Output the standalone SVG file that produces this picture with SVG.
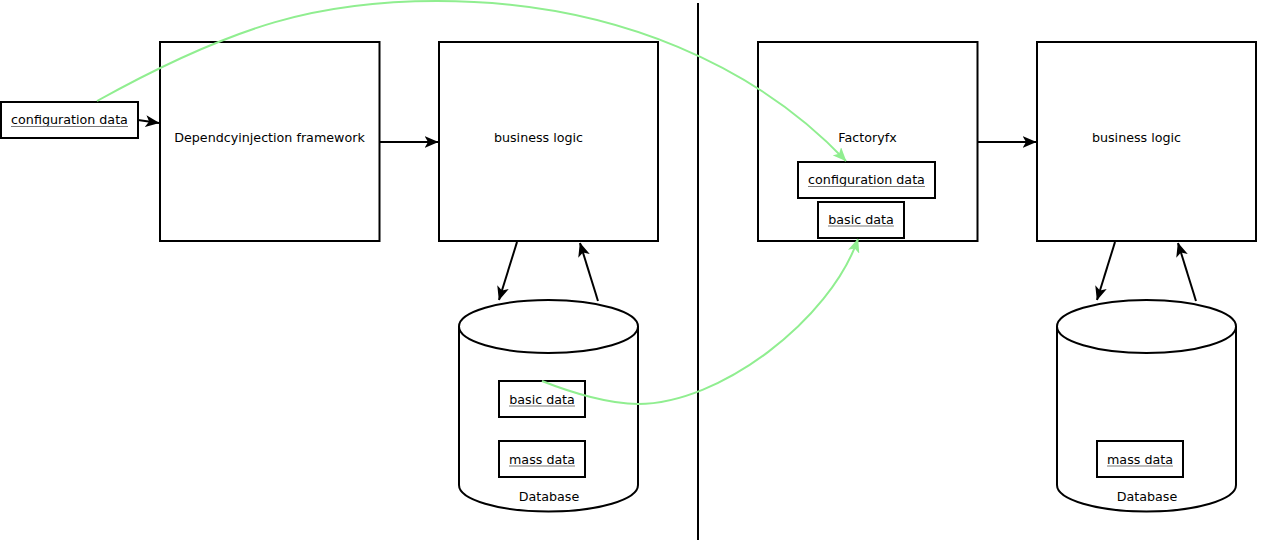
<svg xmlns="http://www.w3.org/2000/svg" width="1262" height="542" viewBox="0 0 1262 542">
<style>
.box{fill:#fff;stroke:#000;stroke-width:2}
.small{fill:#fff;stroke:#000;stroke-width:2}
.t{font-family:"DejaVu Sans",sans-serif;font-size:12.7px;fill:#000;text-anchor:middle}
.ul{stroke:#7a7a7a;stroke-width:1.2}
.conn{fill:none;stroke:#000;stroke-width:2}
.green{fill:none;stroke:#90ee90;stroke-width:2}
</style>
<defs>
<marker id="ab" markerUnits="userSpaceOnUse" viewBox="0 0 14 12" markerWidth="14" markerHeight="12" refX="13.5" refY="6" orient="auto">
<path d="M0,0 L14,6 L0,12 L3.5,6 z" fill="#000"/>
</marker>
<marker id="ag" markerUnits="userSpaceOnUse" viewBox="0 0 14 12" markerWidth="14" markerHeight="12" refX="13.5" refY="6" orient="auto">
<path d="M0,0 L14,6 L0,12 L3.5,6 z" fill="#90ee90"/>
</marker>
</defs>
<rect width="1262" height="542" fill="#fff"/>
<line x1="698" y1="3" x2="698" y2="540" stroke="#000" stroke-width="2"/>

<g id="config-left">
<rect class="small" x="1" y="102" width="137" height="36"/>
<text class="t" x="69.5" y="124">configuration data</text>
<line class="ul" x1="11" y1="126.5" x2="128" y2="126.5"/>
</g>

<g id="di-framework">
<rect class="box" x="160" y="42" width="219.5" height="199"/>
<text class="t" x="269.5" y="142">Dependcyinjection framework</text>
</g>

<g id="business-logic-1">
<rect class="box" x="439" y="42" width="219" height="199"/>
<text class="t" x="538.5" y="142">business logic</text>
</g>

<g id="database-1">
<path class="box" d="M459,326.5 A89.5,26.5 0 0 1 638,326.5 L638,485 A89.5,26.5 0 0 1 459,485 Z"/>
<path fill="none" stroke="#000" stroke-width="2" d="M459,326.5 A89.5,26.5 0 0 0 638,326.5"/>
<text class="t" x="549" y="500.5">Database</text>
</g>

<g id="basic-data-db">
<rect class="small" x="499" y="381" width="86" height="36"/>
<text class="t" x="542" y="403.5">basic data</text>
<line class="ul" x1="509" y1="406" x2="575" y2="406"/>
</g>

<g id="mass-data-1">
<rect class="small" x="499" y="441" width="86" height="36"/>
<text class="t" x="542" y="463.5">mass data</text>
<line class="ul" x1="509" y1="466" x2="575" y2="466"/>
</g>

<g id="factoryfx">
<rect class="box" x="758" y="42" width="219.5" height="199"/>
<text class="t" x="867.5" y="142">Factoryfx</text>
</g>

<g id="config-factoryfx">
<rect class="small" x="798" y="162" width="137" height="36"/>
<text class="t" x="866.5" y="184">configuration data</text>
<line class="ul" x1="808" y1="186.5" x2="925" y2="186.5"/>
</g>

<g id="basic-data-factoryfx">
<rect class="small" x="818" y="202" width="86" height="36"/>
<text class="t" x="861" y="223.5">basic data</text>
<line class="ul" x1="828" y1="226" x2="894" y2="226"/>
</g>

<g id="business-logic-2">
<rect class="box" x="1037" y="42" width="219" height="199"/>
<text class="t" x="1136.5" y="142">business logic</text>
</g>

<g id="database-2">
<path class="box" d="M1057,326.5 A89.5,26.5 0 0 1 1236,326.5 L1236,485 A89.5,26.5 0 0 1 1057,485 Z"/>
<path fill="none" stroke="#000" stroke-width="2" d="M1057,326.5 A89.5,26.5 0 0 0 1236,326.5"/>
<text class="t" x="1147" y="500.5">Database</text>
</g>

<g id="mass-data-2">
<rect class="small" x="1097" y="441" width="86" height="36"/>
<text class="t" x="1140" y="463.5">mass data</text>
<line class="ul" x1="1107" y1="466" x2="1173" y2="466"/>
</g>

<g id="connectors">
<path class="conn" d="M138,120 L159,123" marker-end="url(#ab)"/>
<path class="conn" d="M380,142 L438,142" marker-end="url(#ab)"/>
<path class="conn" d="M517,242 L499,300" marker-end="url(#ab)"/>
<path class="conn" d="M598,301 L580,243" marker-end="url(#ab)"/>
<path class="conn" d="M978,142 L1036,142" marker-end="url(#ab)"/>
<path class="conn" d="M1115,242 L1097,300" marker-end="url(#ab)"/>
<path class="conn" d="M1196,301 L1178,243" marker-end="url(#ab)"/>
<path class="green" d="M97,101 C235.6,24 320,1 437,1 C620,1 760,70 846,161" marker-end="url(#ag)"/>
<path class="green" d="M542,381 C572,393 610,404 638,404 C720,404 830,320 858,239" marker-end="url(#ag)"/>
</g>
</svg>
